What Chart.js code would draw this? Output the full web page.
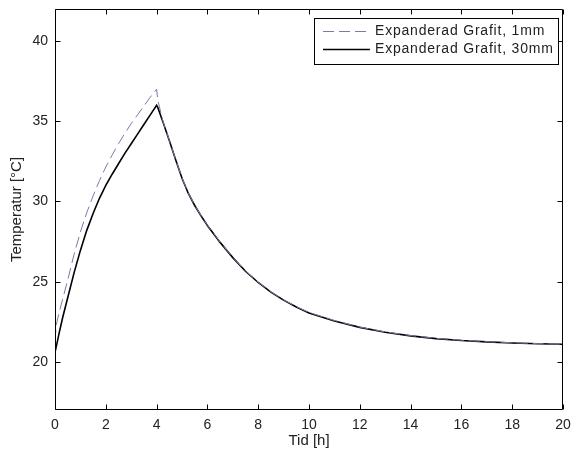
<!DOCTYPE html>
<html>
<head>
<meta charset="utf-8">
<script src="https://cdn.jsdelivr.net/npm/chart.js@4"></script>
<style>
  html, body { margin: 0; padding: 0; background: #fff; }
  #wrap { width: 572px; height: 458px; }
</style>
</head>
<body>
<div id="wrap"><canvas id="tempChart" width="572" height="458"></canvas></div>
<script>
// tid [h]
const tid = [0, 0.05, 0.15, 0.3, 0.5, 0.75, 1.0, 1.25, 1.5, 1.75, 2.0, 2.25, 2.5, 2.75, 3.0, 3.25, 3.5, 3.75, 4.0,
    4.05, 4.25, 4.5, 4.75, 5.0, 5.25, 5.5, 5.75, 6.0, 6.5, 7.0, 7.5, 8.0, 8.5, 9.0, 9.5, 10, 11, 12, 13, 14, 15, 16, 17, 18, 19, 20];
const grafit1mm = [21.3, 22.3, 23.0, 23.9, 25.1, 26.7, 28.1, 29.3, 30.35, 31.3, 32.15, 32.9, 33.6, 34.25, 34.85, 35.4, 35.95, 36.5, 37.0,
    36.3, 35.0, 33.82, 32.62, 31.47, 30.52, 29.77, 29.12, 28.52, 27.47, 26.52, 25.67, 24.97, 24.37, 23.87, 23.44, 23.08, 22.58, 22.17, 21.87, 21.64, 21.47, 21.35, 21.26, 21.19, 21.14, 21.1];
const grafit30mm = [20.6, 20.95, 21.7, 22.75, 24.0, 25.55, 26.95, 28.2, 29.25, 30.2, 31.0, 31.7, 32.35, 33.0, 33.6, 34.2, 34.8, 35.4, 36.0,
    35.85, 34.95, 33.8, 32.6, 31.45, 30.5, 29.75, 29.1, 28.5, 27.45, 26.5, 25.65, 24.95, 24.35, 23.85, 23.42, 23.05, 22.55, 22.15, 21.85, 21.62, 21.45, 21.33, 21.25, 21.18, 21.13, 21.1];
const xTicks = [0, 2, 4, 6, 8, 10, 12, 14, 16, 18, 20];
const yTicks = [20, 25, 30, 35, 40];

const fontFamily = '"Liberation Sans", Arial, Helvetica, sans-serif';
const textColor = '#222';

// ram runt plottytan + inåtriktade tickmarkeringar (matlab-stil)
const framePlugin = {
    id: 'frame',
    afterDatasetsDraw(chart) {
        const { ctx, chartArea: a, scales: { x, y } } = chart;
        const L = Math.round(a.left) + 0.5, R = Math.round(a.right) - 0.5;
        const T = Math.round(a.top) + 0.5, B = Math.round(a.bottom) - 0.5;
        const len = 5;
        ctx.save();
        ctx.strokeStyle = '#000';
        ctx.lineWidth = 1;
        ctx.beginPath();
        ctx.rect(L, T, R - L, B - T);
        xTicks.forEach(v => {
            const px = Math.round(x.getPixelForValue(v)) + 0.5;
            ctx.moveTo(px, B); ctx.lineTo(px, B - len);
            ctx.moveTo(px, T); ctx.lineTo(px, T + len);
        });
        yTicks.forEach(v => {
            const py = Math.round(y.getPixelForValue(v)) + 0.5;
            ctx.moveTo(L, py); ctx.lineTo(L + len, py);
            ctx.moveTo(R, py); ctx.lineTo(R - len, py);
        });
        ctx.stroke();
        ctx.restore();
    }
};

// legend i en ruta uppe till höger
const legendPlugin = {
    id: 'boxLegend',
    afterDraw(chart) {
        const { ctx } = chart;
        const box = { left: 314.5, top: 18.5, width: 244, height: 46 };
        ctx.save();
        ctx.fillStyle = '#fff';
        ctx.fillRect(box.left, box.top, box.width, box.height);
        ctx.strokeStyle = '#000';
        ctx.lineWidth = 1;
        ctx.strokeRect(box.left, box.top, box.width, box.height);
        ctx.font = '14px ' + fontFamily;
        ctx.letterSpacing = '0.8px';
        ctx.textBaseline = 'middle';
        ctx.fillStyle = textColor;
        chart.data.datasets.forEach((ds, i) => {
            const yy = 31.5 + i * 18;
            ctx.beginPath();
            ctx.strokeStyle = ds.borderColor;
            ctx.lineWidth = ds.borderWidth;
            ctx.setLineDash(ds.borderDash || []);
            ctx.moveTo(323, yy);
            ctx.lineTo(370, yy);
            ctx.stroke();
            ctx.setLineDash([]);
            ctx.fillText(ds.label, 375, yy);
        });
        ctx.restore();
    }
};

const tempData = {
    datasets: [{
        label: 'Expanderad Grafit, 1mm',
        data: tid.map((t, i) => ({ x: t, y: grafit1mm[i] })),
        borderColor: '#7a7aa8',
        borderWidth: 1,
        borderDash: [11, 5],
        pointRadius: 0,
        tension: 0,
    }, {
        label: 'Expanderad Grafit, 30mm',
        data: tid.map((t, i) => ({ x: t, y: grafit30mm[i] })),
        borderColor: '#000',
        borderWidth: 1.6,
        pointRadius: 0,
        tension: 0,
    }]
};

const tempChart = new Chart(document.getElementById('tempChart'), {
    type: 'line',
    data: tempData,
    options: {
        responsive: false,
        animation: false,
        layout: { padding: { left: 0, right: 9, top: 9, bottom: 0 } },
        scales: {
            x: {
                type: 'linear',
                min: 0,
                max: 20,
                afterFit(scale) {
                    scale.height = 48;
                    scale.paddingLeft = 0;
                    scale.paddingRight = 0;
                },
                afterBuildTicks(scale) { scale.ticks = xTicks.map(v => ({ value: v })); },
                grid: { display: false, drawTicks: false, tickLength: 0 },
                border: { display: false },
                ticks: {
                    padding: 7,
                    maxRotation: 0,
                    color: textColor,
                    font: { family: fontFamily, size: 14 },
                },
                title: {
                    display: true,
                    text: 'Tid [h]',
                    color: textColor,
                    font: { family: fontFamily, size: 15 },
                    padding: { top: 0, bottom: 8 },
                },
            },
            y: {
                type: 'linear',
                min: 17,
                max: 42,
                afterFit(scale) {
                    scale.width = 55;
                    scale.paddingTop = 0;
                    scale.paddingBottom = 0;
                },
                afterBuildTicks(scale) { scale.ticks = yTicks.map(v => ({ value: v })); },
                grid: { display: false, drawTicks: false, tickLength: 0 },
                border: { display: false },
                ticks: {
                    padding: 7,
                    color: textColor,
                    font: { family: fontFamily, size: 14 },
                },
                title: {
                    display: true,
                    text: 'Temperatur [°C]',
                    color: textColor,
                    font: { family: fontFamily, size: 15 },
                    padding: { top: 8, bottom: 0 },
                },
            },
        },
        plugins: {
            legend: { display: false },
            tooltip: { enabled: false },
        },
    },
    plugins: [framePlugin, legendPlugin],
});
</script>
</body>
</html>
